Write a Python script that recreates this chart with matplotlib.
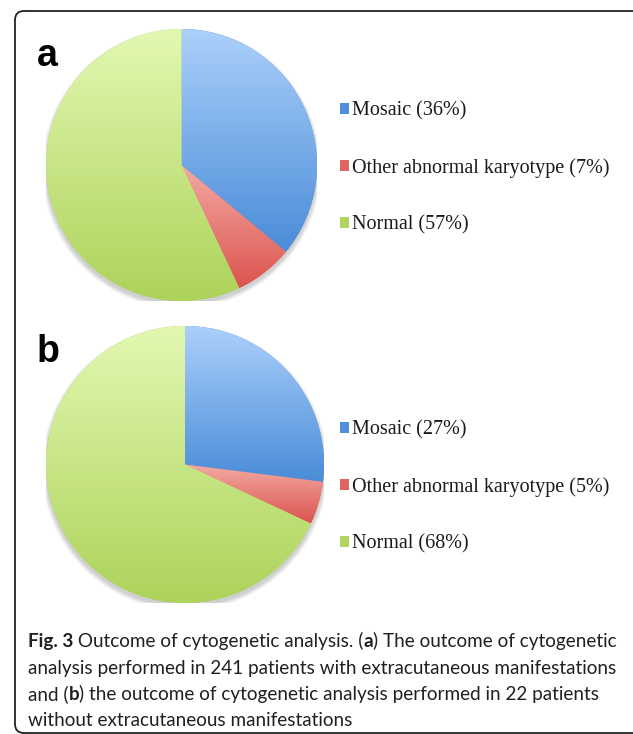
import numpy as np
import matplotlib.pyplot as plt
from matplotlib.patches import FancyBboxPatch, Circle
from matplotlib.colors import LinearSegmentedColormap

# data
labels = ["Mosaic", "Other abnormal karyotype", "Normal"]
share_a = [36, 7, 57]
share_b = [27, 5, 68]

# light (top) -> dark (bottom) for each slice
grad_colors = [("#abd0fb", "#4a8cd8"), ("#f4aaa4", "#dc544e"), ("#e2f8b2", "#add35a")]
legend_colors = ["#4f8fd9", "#e06560", "#b2d562"]

caption_lines = [
    [("Fig. 3", "bold"), (" Outcome of cytogenetic analysis. (", "normal"), ("a", "bold"),
     (") The outcome of cytogenetic", "normal")],
    [("analysis performed in 241 patients with extracutaneous manifestations", "normal")],
    [("and (", "normal"), ("b", "bold"), (") the outcome of cytogenetic analysis performed in 22 patients", "normal")],
    [("without extracutaneous manifestations", "normal")],
]

W, H = 633, 734
fig = plt.figure(figsize=(W / 100, H / 100), dpi=100)

bg = fig.add_axes([0, 0, 1, 1])
bg.set_xlim(0, W)
bg.set_ylim(H, 0)
bg.axis("off")
bg.add_patch(FancyBboxPatch((15, 11), 640, 722, boxstyle="round,pad=0,rounding_size=9",
                            fill=False, edgecolor="#222222", linewidth=1.3, clip_on=False))


def px_axes(left, top, right, bottom):
    return fig.add_axes([left / W, 1 - bottom / H, (right - left) / W, (bottom - top) / H])


def draw_pie(ax, values):
    # soft shadow
    for k in range(6):
        ax.add_patch(Circle((0.0, -0.025), 1.0 + 0.006 * k, color="#555555", alpha=0.05, lw=0, zorder=0))
    wedges, _ = ax.pie(values, startangle=90, counterclock=False, radius=1,
                       colors=legend_colors, wedgeprops=dict(linewidth=0))
    for w, (c0, c1) in zip(wedges, grad_colors):
        w.set_zorder(1)
        ext = w.get_path().get_extents()
        cmap = LinearSegmentedColormap.from_list("g", [c0, c1])
        grad = np.linspace(0, 1, 256).reshape(-1, 1)
        im = ax.imshow(grad, cmap=cmap, extent=[ext.x0, ext.x1, ext.y0, ext.y1],
                       origin="upper", aspect="auto", zorder=2, interpolation="bilinear")
        im.set_clip_path(w)
    ax.set_xlim(-1.0, 1.0)
    ax.set_ylim(-1.0, 1.0)
    ax.set_aspect("auto")
    ax.axis("off")
    return wedges


def draw_legend(ax, wedges, values, y_center):
    texts = [f"{lab} ({v}%)" for lab, v in zip(labels, values)]
    leg = ax.legend(wedges, texts, loc="center left", bbox_to_anchor=(340 / W, 1 - y_center / H),
                    bbox_transform=fig.transFigure, frameon=False,
                    prop=dict(family="Liberation Serif", size=14.5),
                    handlelength=0.45, handleheight=0.45, handletextpad=0.15,
                    labelspacing=1.85, borderaxespad=0, borderpad=0)
    for t in leg.get_texts():
        t.set_color("#1a1a1a")


ax_a = px_axes(46, 29, 317, 301)
wa = draw_pie(ax_a, share_a)
draw_legend(ax_a, wa, share_a, 168)

ax_b = px_axes(46, 326, 324, 603)
wb = draw_pie(ax_b, share_b)
draw_legend(ax_b, wb, share_b, 487)

bg.text(37, 66, "a", fontsize=27, fontweight="bold", family="Liberation Sans", color="black")
bg.text(37, 362, "b", fontsize=27, fontweight="bold", family="Liberation Sans", color="black")

# caption with mixed bold / regular runs
fig.canvas.draw()
renderer = fig.canvas.get_renderer()
baselines = [647, 674, 700, 726]
for line, yb in zip(caption_lines, baselines):
    x = 28
    for txt, weight in line:
        t = bg.text(x, yb, txt, fontsize=13.6, fontweight=weight, family="Lato",
                    color="#231f20", va="baseline", ha="left")
        bb = t.get_window_extent(renderer)
        x += bb.width

fig.savefig("out.png", dpi=100)
